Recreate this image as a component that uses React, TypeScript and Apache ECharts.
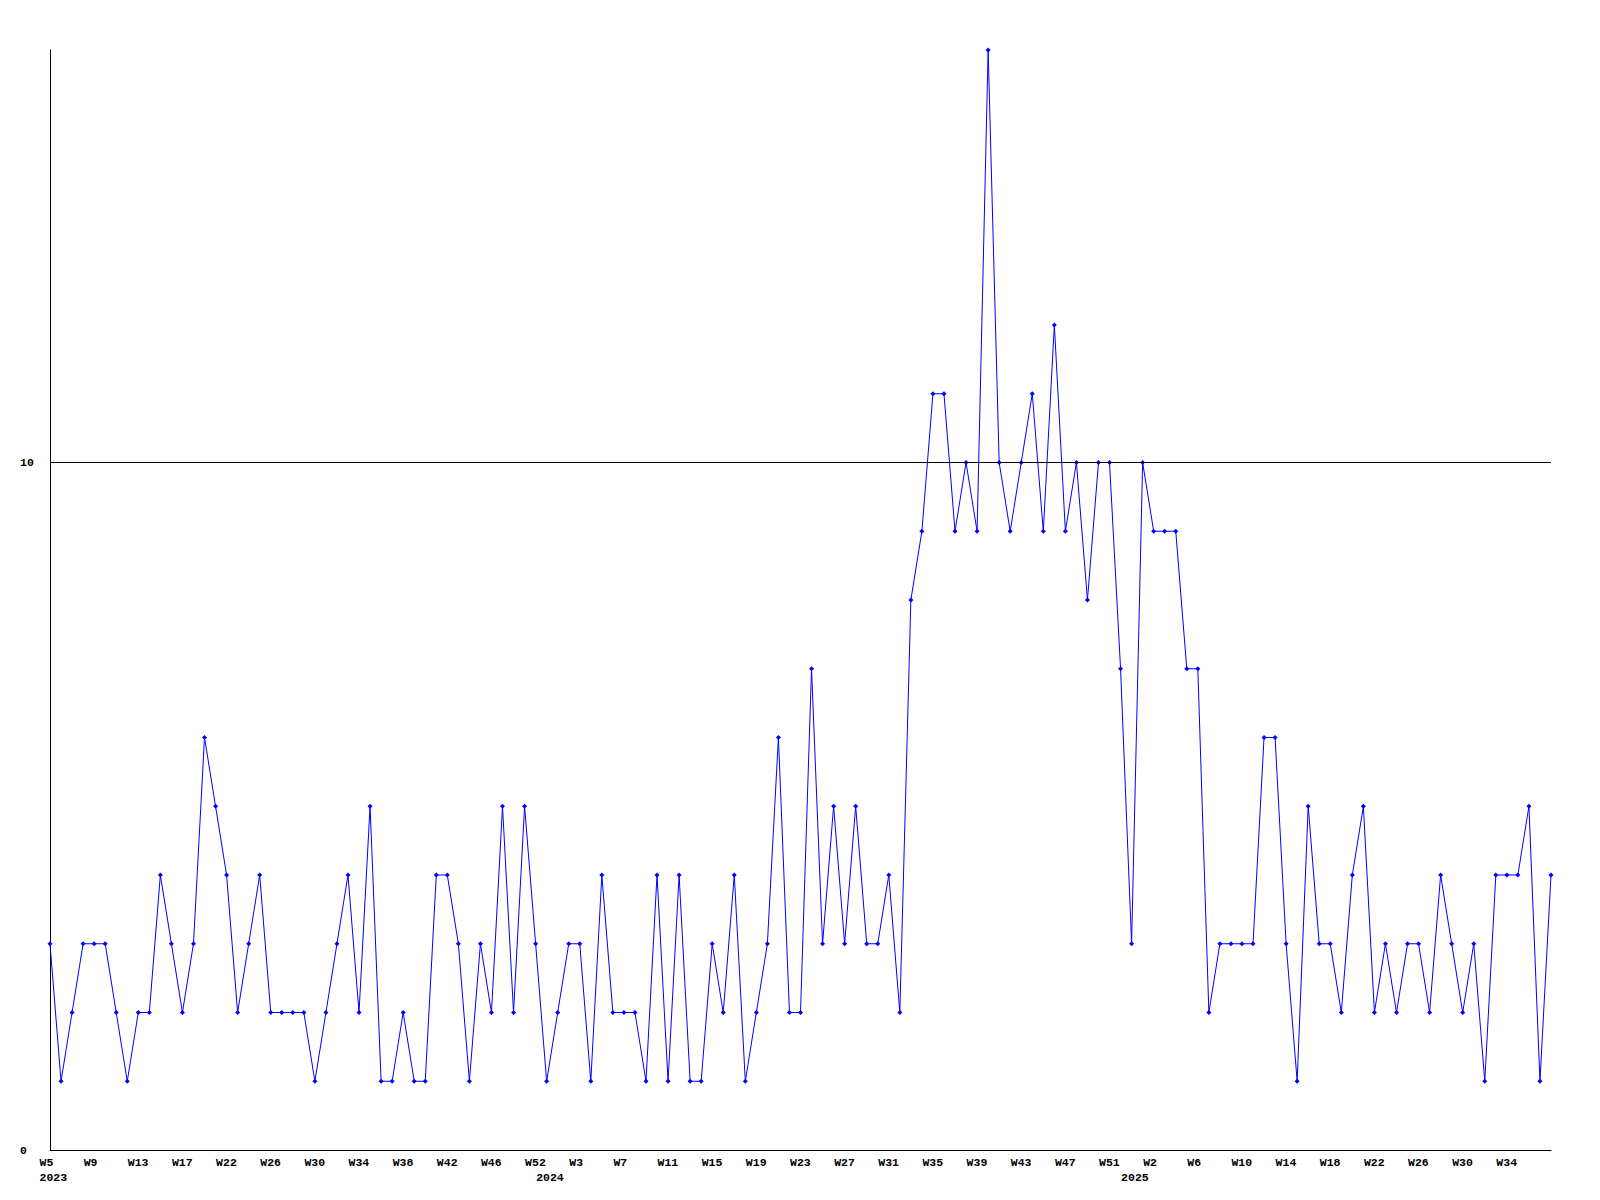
import React, { useEffect, useRef } from "react";
import * as echarts from "echarts";

// Weekly values, 2023 W5 onward (one point per week)
const values: number[] = [
  3, 1, 2, 3, 3, 3, 2, 1, 2, 2, 4, 3, 2, 3, 6, 5, 4, 2, 3, 4,
  2, 2, 2, 2, 1, 2, 3, 4, 2, 5, 1, 1, 2, 1, 1, 4, 4, 3, 1, 3,
  2, 5, 2, 5, 3, 1, 2, 3, 3, 1, 4, 2, 2, 2, 1, 4, 1, 4, 1, 1,
  3, 2, 4, 1, 2, 3, 6, 2, 2, 7, 3, 5, 3, 5, 3, 3, 4, 2, 8, 9,
  11, 11, 9, 10, 9, 16, 10, 9, 10, 11, 9, 12, 9, 10, 8, 10, 10, 7, 3, 10,
  9, 9, 9, 7, 7, 2, 3, 3, 3, 3, 6, 6, 3, 1, 5, 3, 3, 2, 4, 5,
  2, 3, 2, 3, 3, 2, 4, 3, 2, 3, 1, 4, 4, 4, 5, 1, 4,
];

// Tick labels, one every 4 points
const weekLabels: string[] = [
  "W5", "W9", "W13", "W17", "W22", "W26", "W30", "W34", "W38", "W42",
  "W46", "W52", "W3", "W7", "W11", "W15", "W19", "W23", "W27", "W31",
  "W35", "W39", "W43", "W47", "W51", "W2", "W6", "W10", "W14", "W18",
  "W22", "W26", "W30", "W34",
];
const weekLabelStep = 4;

// Year labels and the point index under which each appears
const yearLabels: string[] = ["2023", "2024", "2025"];
const yearIndices: number[] = [0, 45, 98];

const referenceLine = 10;

export default function App() {
  const ref = useRef<HTMLDivElement>(null);

  useEffect(() => {
    document.body.style.margin = "0";
    if (!ref.current) return;
    const chart = echarts.init(ref.current, undefined, { renderer: "svg" });

    const categories = values.map((_, i) => String(i));
    const font = "Liberation Mono";

    const weekFormatter = (_: string, idx: number) => {
      if (idx % weekLabelStep !== 0) return "";
      const l = weekLabels[idx / weekLabelStep];
      return l ? `{a|${l}}` : "";
    };
    const yearFormatter = (_: string, idx: number) => {
      const k = yearIndices.indexOf(idx);
      return k >= 0 ? `{a|${yearLabels[k]}}` : "";
    };
    const richA = {
      a: {
        width: 21,
        align: "left" as const,
        fontFamily: font,
        fontWeight: "bold" as const,
        fontSize: 11.5,
        color: "#000",
      },
    };

    chart.setOption({
      animation: false,
      backgroundColor: "#ffffff",
      grid: { left: 50, right: 49, top: 50, bottom: 50 },
      xAxis: [
        {
          type: "category",
          data: categories,
          boundaryGap: false,
          axisLine: { show: true, lineStyle: { color: "#000", width: 1 } },
          axisTick: { show: false },
          splitLine: { show: false },
          axisLabel: {
            interval: 0,
            margin: 6,
            formatter: weekFormatter,
            rich: richA,
          },
        },
        {
          type: "category",
          data: categories,
          boundaryGap: false,
          position: "bottom",
          axisLine: { show: false },
          axisTick: { show: false },
          splitLine: { show: false },
          axisLabel: {
            interval: 0,
            margin: 21,
            formatter: yearFormatter,
            rich: richA,
          },
        },
      ],
      yAxis: {
        type: "value",
        min: 0,
        max: 16,
        interval: 10,
        axisLine: { show: true, lineStyle: { color: "#000", width: 1 } },
        axisTick: { show: false },
        splitLine: { show: false },
        axisLabel: {
          align: "left",
          margin: 30,
          showMaxLabel: false,
          color: "#000",
          fontFamily: font,
          fontWeight: "bold",
          fontSize: 11.5,
          formatter: (v: number) => (v === 0 || v === 10 ? String(v) : ""),
        },
      },
      series: [
        {
          type: "line",
          data: values,
          xAxisIndex: 0,
          symbol: "diamond",
          symbolSize: 5,
          showSymbol: true,
          lineStyle: { color: "#0000ff", width: 1 },
          itemStyle: { color: "#0000ff" },
          markLine: {
            silent: true,
            symbol: "none",
            label: { show: false },
            lineStyle: { color: "#000", type: "solid", width: 1 },
            data: [{ yAxis: referenceLine }],
          },
        },
      ],
    });

    return () => chart.dispose();
  }, []);

  return <div ref={ref} style={{ width: 1600, height: 1200 }} />;
}
